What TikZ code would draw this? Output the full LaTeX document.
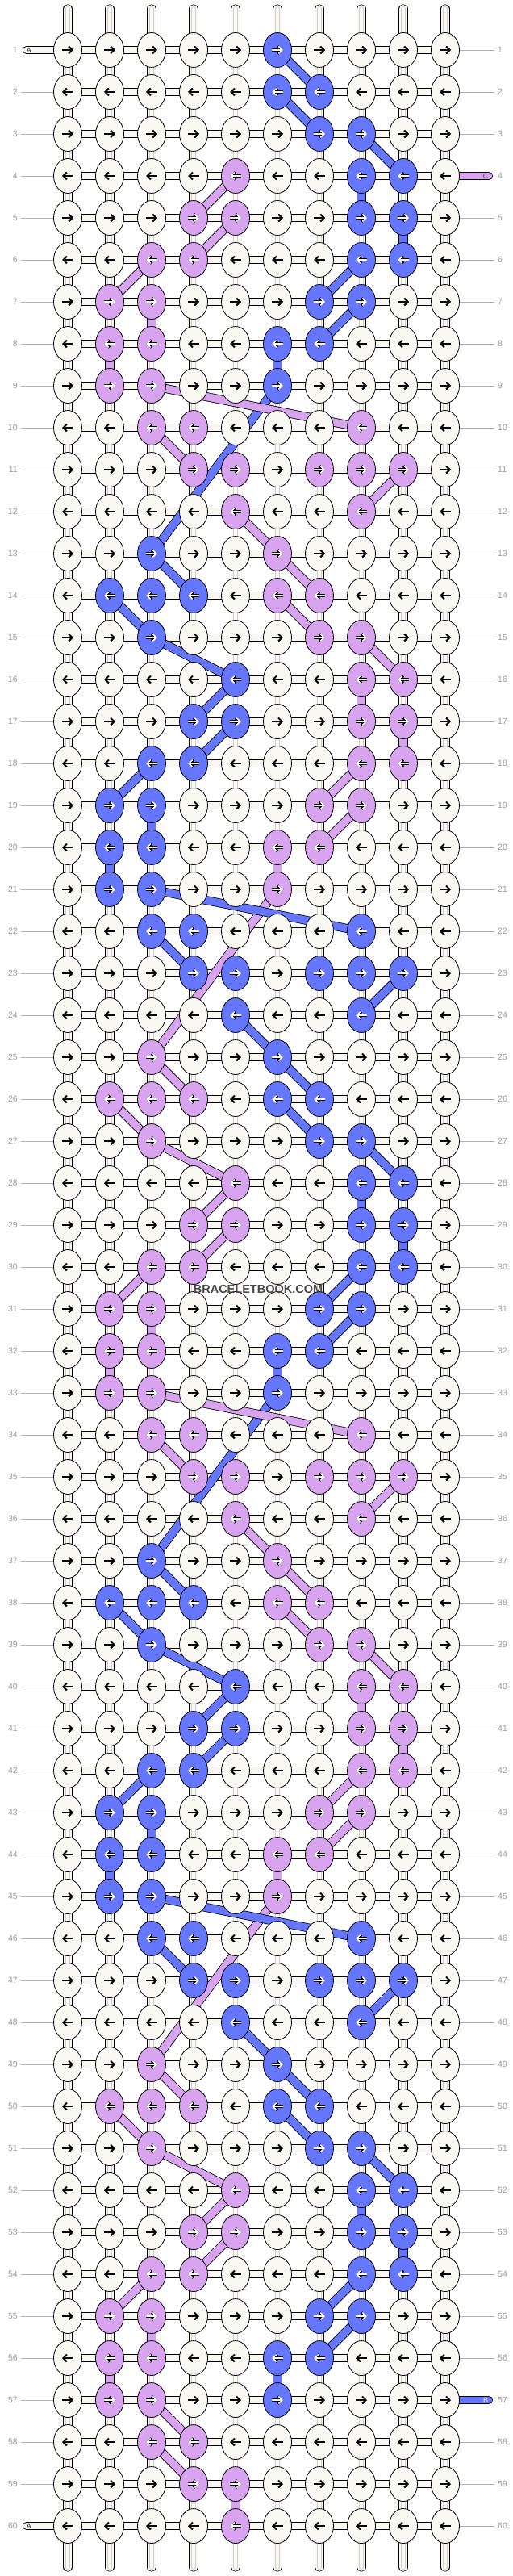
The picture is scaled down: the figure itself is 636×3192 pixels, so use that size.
\documentclass[tikz,border=0pt]{standalone}
\usepackage{fontspec}
\setmainfont{Liberation Sans}
\usetikzlibrary{arrows.meta}
\usetikzlibrary{shapes.geometric}
\definecolor{knotwhite}{RGB}{250,248,243}
\definecolor{bblue}{RGB}{102,119,255}
\definecolor{cpink}{RGB}{216,164,240}
\definecolor{rowgray}{RGB}{155,155,155}
\pgfdeclarelayer{strands}
\pgfdeclarelayer{bands}
\pgfsetlayers{strands,bands,main}
\tikzset{
    knotbase/.style={ellipse, draw=black, line width=0.8, minimum width=35, minimum height=43, inner sep=0pt},
    wknot/.style={knotbase, fill=knotwhite},
    bknot/.style={knotbase, fill=bblue},
    pknot/.style={knotbase, fill=cpink},
    knotarrow/.style={-{Straight Barb[length=4.5pt,width=9pt]}},
    hbar/.style={draw=knotwhite, line width=8.6, preaction={draw=black, line width=10.2}},
    hend/.style={draw=knotwhite, line width=8.6, line cap=round, preaction={draw=black, line width=10.2, line cap=round}},
    vbar/.style={draw=knotwhite, line width=9.8, line cap=round, preaction={draw=black, line width=11.2, line cap=round},
        postaction={draw=black!18, line width=6, line cap=round}, postaction={draw=knotwhite, line width=4.9, line cap=round}},
    bband/.style={draw=bblue, line width=9.4, preaction={draw=black, line width=11}},
    pband/.style={draw=cpink, line width=9.4, preaction={draw=black, line width=11}},
    blueend/.style={draw=bblue, line width=8.6, line cap=round, preaction={draw=black, line width=10.2, line cap=round}},
    pinkend/.style={draw=cpink, line width=8.6, line cap=round, preaction={draw=black, line width=10.2, line cap=round}},
    rowlabel/.style={text=rowgray, font=\fontsize{10.5}{12}\selectfont, inner sep=0pt},
    rowline/.style={draw=black!30, line width=0.8},
    endlabel/.style={font=\fontsize{9}{10}\selectfont, inner sep=0pt},
}
\def\wstyle{wknot}

\begin{document}
\begin{tikzpicture}[x=1pt, y=-1pt]
    \useasboundingbox (0,0) rectangle (636,3192);
    \begin{pgfonlayer}{strands}
        \fill[white] (0,0) rectangle (636,3192);
    \end{pgfonlayer}

    \foreach \ix/\cl in {0/{6},1/{6,7},2/{7,8},3/{8,9},4/{8,9},5/{8,9},6/{7,8},7/{6,7},8/{6},
        12/{3},13/{2,3,4},14/{3},15/{5},16/{4,5},17/{3,4},18/{2,3},19/{2,3},20/{2,3},
        21/{3,4,8},22/{4,5,7,8,9},23/{5,8}}{
        \foreach \k in {-24,0,24,48}{
            \pgfmathtruncatemacro\br{\ix+\k+1}
            \pgfmathtruncatemacro\pr{\ix+\k+13}
            \foreach \c in \cl {
                \ifnum\br>0 \ifnum\br<58 \expandafter\gdef\csname kc-\br-\c\endcsname{bknot}\fi\fi
                \ifnum\pr>3 \ifnum\pr<61 \ifnum\pr>57 \ifnum\c<7 \expandafter\gdef\csname kc-\pr-\c\endcsname{pknot}\fi
                    \else \expandafter\gdef\csname kc-\pr-\c\endcsname{pknot}\fi\fi\fi
            }
        }
    }

    \foreach \r in {1,...,60}{
        \foreach \c in {1,...,10}{
            \edef\kstyle{\ifcsname kc-\r-\c\endcsname\csname kc-\r-\c\endcsname\else wknot\fi}
            \node[\kstyle] (k-\r-\c) at ({84+52*(\c-1)},{62+52*(\r-1)}) {};
            \ifodd\r \def\al{-7}\def\ar{7}\else \def\al{7}\def\ar{-7}\fi
            \ifx\kstyle\wstyle
                \draw[knotarrow, line width=2] ([xshift=\al pt]k-\r-\c.center) -- ([xshift=\ar pt]k-\r-\c.center);
            \else
                \draw[knotarrow, line width=3.4] ([xshift=\al pt]k-\r-\c.center) -- ([xshift=\ar pt]k-\r-\c.center);
                \draw[knotarrow, line width=1.6, white] ([xshift=\al pt]k-\r-\c.center) -- ([xshift=\ar pt]k-\r-\c.center);
            \fi
        }
        \node[rowlabel, anchor=east] (ll-\r) at (22,{62+52*(\r-1)}) {\r};
        \node[rowlabel, anchor=west] (rl-\r) at (617,{62+52*(\r-1)}) {\r};
    }

    \begin{pgfonlayer}{strands}
        \foreach \c in {1,...,10}{
            \coordinate (top-\c) at ({84+52*(\c-1)},11);
            \coordinate (bot-\c) at ({84+52*(\c-1)},3181);
            \draw[vbar] (top-\c) -- (bot-\c);
        }
        \foreach \r in {1,...,60}
            \draw[hbar] (k-\r-1.center) -- (k-\r-10.center);
        \foreach \r in {1,60}{
            \coordinate (aend-\r) at (33,{62+52*(\r-1)});
            \draw[hend] (aend-\r) -- (k-\r-1.center);
        }
    \end{pgfonlayer}

    \begin{pgfonlayer}{bands}
        \foreach \ix/\ca/\cb/\dr in {0/6/7/1, 1/6/7/1, 2/8/9/1, 3/8/8/1, 4/9/9/1, 5/8/7/1, 6/8/7/1, 7/6/6/1, 8/6/3/4,
            12/3/4/1, 13/2/3/1, 14/3/5/1, 15/5/4/1, 16/5/4/1, 17/3/2/1, 18/3/3/1, 19/2/2/1,
            20/3/8/1, 21/3/4/1, 22/9/8/1, 23/5/6/1}{
            \foreach \k in {-24,0,24,48}{
                \pgfmathtruncatemacro\br{\ix+\k+1}
                \pgfmathtruncatemacro\bs{\br+\dr}
                \pgfmathtruncatemacro\pr{\ix+\k+13}
                \pgfmathtruncatemacro\ps{\pr+\dr}
                \ifnum\br>0 \ifnum\bs<58 \draw[bband] (k-\br-\ca.center) -- (k-\bs-\cb.center);\fi\fi
                \ifnum\pr>3 \ifnum\ps<60 \ifnum\pr=57 \else\ifnum\pr=59 \else
                    \draw[pband] (k-\pr-\ca.center) -- (k-\ps-\cb.center);\fi\fi\fi\fi
            }
        }
        \draw[pband] (k-57-3.center) -- (k-58-4.center);
        \draw[pband] (k-59-5.center) -- (k-60-5.center);
        \coordinate (cend) at (606,218);
        \draw[pinkend] (k-4-10.center) -- (cend);
        \coordinate (bend-57) at (606,2974);
        \draw[blueend] (k-57-10.center) -- (bend-57);
    \end{pgfonlayer}

    \foreach \r in {2,...,59}
        \draw[rowline] ([xshift=4pt]ll-\r.east) -- (k-\r-1.west);
    \foreach \r in {1,2,3,5,6,...,56,58,59,60}
        \draw[rowline] (k-\r-10.east) -- ([xshift=-4pt]rl-\r.west);

    \node[endlabel, text=black!85] (alab-1) at (36,62) {A};
    \node[endlabel, text=black!85] (alab-60) at (36,3130) {A};
    \node[endlabel, text=black!70] (clab) at (602,218) {C};
    \node[endlabel, text=white] (blab) at (602,2974) {B};

    \node[font=\bfseries\fontsize{14.5}{16}\selectfont, text=black!72] (wm) at (320,1597) {BRACELETBOOK.COM};
\end{tikzpicture}
\end{document}
